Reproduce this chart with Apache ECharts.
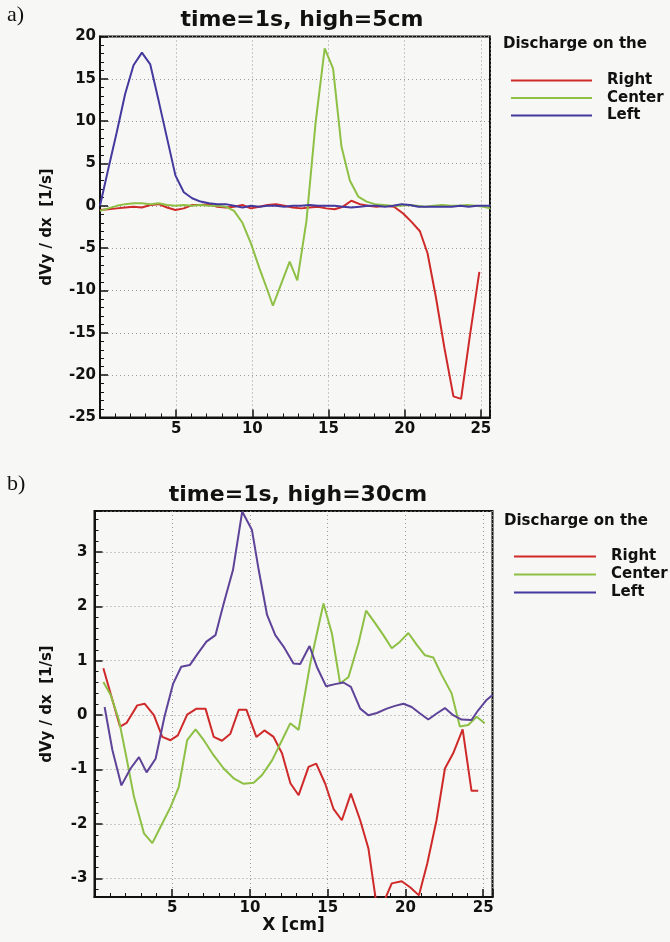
<!DOCTYPE html>
<html><head><meta charset="utf-8">
<script src="https://cdn.jsdelivr.net/npm/echarts@6/dist/echarts.min.js"></script>
<style>html,body{margin:0;padding:0;background:#f7f7f5;}#c{width:670px;height:942px;}</style>
</head><body><div id="c"></div>
<script>
// ---- chart a) time=1s, high=5cm ----
const aXTicks = [5, 10, 15, 20, 25];
const aYTicks = [-25, -20, -15, -10, -5, 0, 5, 10, 15, 20];
const aRight = [[0,-0.5],[0.55,-0.4],[1.1,-0.3],[1.65,-0.2],[2.2,-0.1],[2.75,-0.2],[3.3,0.1],[3.85,0.2],[4.4,-0.2],[4.95,-0.5],[5.5,-0.3],[6.05,0.1],[6.6,0.1],[7.15,0.2],[7.7,-0.1],[8.25,-0.2],[8.8,-0.1],[9.35,0.1],[9.9,-0.3],[10.45,-0.1],[11.0,0.1],[11.55,0.2],[12.1,0.0],[12.65,-0.2],[13.2,-0.3],[13.75,-0.2],[14.3,-0.1],[14.85,-0.3],[15.4,-0.4],[15.95,-0.1],[16.5,0.6],[17.05,0.2],[17.6,0.0],[18.15,-0.1],[18.7,0.0],[19.3,-0.1],[19.9,-0.9],[20.45,-1.9],[21.0,-3.0],[21.5,-5.6],[22.05,-10.8],[22.6,-16.7],[23.2,-22.5],[23.7,-22.8],[24.3,-15.1],[24.9,-7.8]];
const aCenter = [[0,-0.6],[0.55,-0.3],[1.1,0.0],[1.65,0.2],[2.2,0.3],[2.75,0.3],[3.3,0.2],[3.85,0.3],[4.4,0.1],[4.95,0.0],[5.5,0.1],[6.05,0.0],[6.6,0.1],[7.15,0.0],[7.7,0.0],[8.25,-0.1],[8.8,-0.6],[9.35,-2.0],[9.9,-4.4],[10.45,-7.3],[11.0,-10.0],[11.35,-11.8],[11.9,-9.2],[12.45,-6.6],[12.95,-8.8],[13.55,-1.8],[14.15,9.8],[14.75,18.6],[15.3,16.2],[15.85,7.0],[16.4,3.0],[16.95,1.1],[17.5,0.5],[18.05,0.2],[18.6,0.1],[19.15,0.0],[19.7,0.0],[20.25,0.1],[20.8,0.0],[21.35,-0.1],[21.9,0.0],[22.45,0.1],[23.0,0.0],[23.55,0.0],[24.1,0.1],[24.65,0.0],[25.2,-0.1],[25.6,-0.3]];
const aLeft = [[0,0],[0.55,4.4],[1.1,8.7],[1.65,13.2],[2.2,16.6],[2.75,18.1],[3.3,16.7],[3.85,12.4],[4.4,8.0],[4.95,3.6],[5.5,1.6],[6.05,0.9],[6.6,0.5],[7.15,0.3],[7.7,0.2],[8.25,0.2],[8.8,0.0],[9.35,-0.2],[9.9,0.0],[10.45,-0.1],[11.0,0.0],[11.55,0.0],[12.1,-0.1],[12.65,0.0],[13.2,0.0],[13.75,0.1],[14.3,0.0],[14.85,0.0],[15.4,0.0],[15.95,-0.1],[16.5,-0.2],[17.05,-0.1],[17.6,0.0],[18.15,0.0],[18.7,-0.1],[19.25,0.0],[19.8,0.2],[20.35,0.1],[20.9,-0.1],[21.45,-0.1],[22.0,-0.1],[22.55,-0.1],[23.1,-0.1],[23.65,0.0],[24.2,-0.1],[24.75,0.0],[25.3,0.0],[25.6,0.0]];

// ---- chart b) time=1s, high=30cm ----
const bXTicks = [5, 10, 15, 20, 25];
const bYTicks = [-3, -2, -1, 0, 1, 2, 3];
const bRight = [[0.57,0.86],[1.64,-0.21],[2.07,-0.14],[2.75,0.18],[3.22,0.21],[3.82,0.0],[4.36,-0.4],[4.89,-0.46],[5.36,-0.37],[5.96,0.01],[6.56,0.12],[7.14,0.12],[7.67,-0.4],[8.2,-0.47],[8.74,-0.34],[9.28,0.1],[9.77,0.1],[10.41,-0.4],[10.93,-0.28],[11.52,-0.4],[12.06,-0.7],[12.6,-1.25],[13.13,-1.47],[13.77,-0.95],[14.26,-0.89],[14.84,-1.26],[15.37,-1.72],[15.91,-1.93],[16.49,-1.44],[17.09,-1.93],[17.62,-2.45],[18.11,-3.42],[18.58,-3.45],[19.12,-3.09],[19.76,-3.05],[20.3,-3.16],[20.87,-3.31],[21.4,-2.73],[22.0,-1.93],[22.54,-0.98],[23.07,-0.7],[23.68,-0.26],[24.25,-1.39],[24.68,-1.39]];
const bCenter = [[0.57,0.61],[1.04,0.37],[1.57,-0.09],[2.0,-0.7],[2.54,-1.5],[3.18,-2.17],[3.72,-2.35],[4.25,-2.05],[4.89,-1.69],[5.42,-1.32],[5.96,-0.46],[6.5,-0.26],[7.03,-0.46],[7.67,-0.74],[8.31,-0.98],[8.95,-1.16],[9.6,-1.26],[10.24,-1.24],[10.78,-1.1],[11.42,-0.83],[12.06,-0.46],[12.59,-0.15],[13.13,-0.27],[13.88,0.95],[14.73,2.05],[15.27,1.5],[15.8,0.58],[16.34,0.7],[16.98,1.32],[17.47,1.92],[18.05,1.69],[18.58,1.47],[19.12,1.23],[19.65,1.35],[20.19,1.51],[20.73,1.29],[21.26,1.1],[21.79,1.06],[22.33,0.74],[22.97,0.4],[23.5,-0.21],[24.04,-0.18],[24.58,-0.03],[25.1,-0.15]];
const bLeft = [[0.65,0.15],[1.15,-0.64],[1.73,-1.29],[2.32,-0.98],[2.86,-0.77],[3.35,-1.05],[3.93,-0.8],[4.5,-0.03],[5.06,0.58],[5.58,0.89],[6.13,0.92],[6.64,1.13],[7.2,1.35],[7.78,1.47],[8.31,2.05],[8.91,2.67],[9.5,3.74],[10.13,3.4],[10.56,2.67],[11.1,1.84],[11.63,1.47],[12.16,1.26],[12.8,0.95],[13.23,0.94],[13.83,1.27],[14.3,0.89],[14.9,0.53],[15.48,0.57],[16.01,0.6],[16.49,0.52],[17.09,0.12],[17.62,0.0],[18.16,0.04],[18.8,0.12],[19.33,0.17],[19.87,0.21],[20.4,0.15],[20.94,0.03],[21.47,-0.08],[22.01,0.03],[22.54,0.13],[23.07,0.0],[23.61,-0.08],[24.25,-0.09],[24.68,0.09],[25.22,0.28],[25.6,0.37]];

const seriesNames = ['Right', 'Center', 'Left'];
const colorsA = ['#cf2a2a', '#8dc044', '#44399e'];
const colorsB = ['#cf2a2a', '#8dc044', '#5e4399'];

const INK = '#111';
const FONT = 'DejaVu Sans';
const lbl = (ticks) => (v) => ticks.some(t => Math.abs(t - v) < 1e-6) ? String(Math.round(v)) : '';

function xAxisCfg(grid, ticks, name) {
  return {
    gridIndex: grid, type: 'value', min: 0, max: 25.6, interval: 5,
    name: name || '', nameLocation: 'middle', nameGap: 19,
    nameTextStyle: {color: INK, fontFamily: FONT, fontWeight: 'bold', fontSize: 17},
    axisLine: {show: true, onZero: false, lineStyle: {color: INK, width: 2}},
    axisTick: {show: true, inside: true, length: 8, lineStyle: {color: INK, width: 1.5}},
    minorTick: {show: true, splitNumber: 5, length: 4, lineStyle: {color: INK, width: 1}},
    splitLine: {show: true, lineStyle: {color: '#9a9a9a', width: 1, type: [1, 3]}},
    axisLabel: {formatter: lbl(ticks), margin: 4, color: INK, fontFamily: FONT, fontWeight: 'bold', fontSize: 15}
  };
}
function yAxisCfg(grid, ticks, min, max, interval, gap, margin) {
  const c = {
    gridIndex: grid, type: 'value', min: min, max: max,
    name: 'dVy / dx  [1/s]', nameLocation: 'middle', nameGap: gap, nameRotate: 90,
    nameTextStyle: {color: INK, fontFamily: FONT, fontWeight: 'bold', fontSize: 15},
    axisLine: {show: true, onZero: false, lineStyle: {color: INK, width: 2}},
    axisTick: {show: true, inside: true, length: 8, lineStyle: {color: INK, width: 1.5}},
    minorTick: {show: true, splitNumber: 5, length: 4, lineStyle: {color: INK, width: 1}},
    splitLine: {show: true, lineStyle: {color: '#9a9a9a', width: 1, type: [1, 3]}},
    axisLabel: {formatter: lbl(ticks), margin: margin, color: INK, fontFamily: FONT, fontWeight: 'bold', fontSize: 15}
  };
  if (interval) c.interval = interval; else c.splitNumber = 7;
  return c;
}
function line(name, data, gi, color) {
  return {name: name, type: 'line', xAxisIndex: gi, yAxisIndex: gi, data: data,
    showSymbol: false, symbol: 'none', clip: true, animation: false,
    lineStyle: {color: color, width: 2}, itemStyle: {color: color}};
}
const txt = (text, left, top, size, family, weight, align) => ({
  text: text, left: left, top: top, padding: 0, textAlign: align || 'left',
  textStyle: {color: INK, fontFamily: family || FONT, fontWeight: weight || 'bold', fontSize: size}
});
const legendCfg = (left, top, width, gap) => ({
  data: seriesNames, orient: 'vertical', left: left, top: top, padding: 0,
  itemWidth: width, itemHeight: 14, itemGap: gap, selectedMode: false,
  itemStyle: {opacity: 0},
  textStyle: {color: INK, fontFamily: FONT, fontWeight: 'bold', fontSize: 15, padding: [0, 0, 0, 10]}
});

const chart = echarts.init(document.getElementById('c'), null, {renderer: 'canvas'});
chart.setOption({
  backgroundColor: '#f7f7f5',
  animation: false,
  title: [
    txt('a)', 7, 4, 22, 'Liberation Serif', 'normal'),
    txt('time=1s, high=5cm', 302, 9, 22, FONT, 'bold', 'center'),
    txt('Discharge on the', 503, 37, 15),
    txt('b)', 7, 473, 22, 'Liberation Serif', 'normal'),
    txt('time=1s, high=30cm', 298, 484, 22, FONT, 'bold', 'center'),
    txt('Discharge on the', 504, 514, 15)
  ],
  grid: [
    {left: 100, top: 36.5, width: 390, height: 381, show: true, borderColor: INK, borderWidth: 2, backgroundColor: 'transparent'},
    {left: 94.5, top: 511, width: 398, height: 386, show: true, borderColor: INK, borderWidth: 2, backgroundColor: 'transparent'}
  ],
  xAxis: [xAxisCfg(0, aXTicks), xAxisCfg(1, bXTicks, 'X [cm]')],
  yAxis: [yAxisCfg(0, aYTicks, -25, 20, 5, 45, 4), yAxisCfg(1, bYTicks, -3.34, 3.75, null, 40, 7)],
  legend: [legendCfg(510, 73, 81, 2.5), legendCfg(513, 549, 82, 3)],
  series: [
    line('Right', aRight, 0, colorsA[0]),
    line('Center', aCenter, 0, colorsA[1]),
    line('Left', aLeft, 0, colorsA[2]),
    line('Right', bRight, 1, colorsB[0]),
    line('Center', bCenter, 1, colorsB[1]),
    line('Left', bLeft, 1, colorsB[2])
  ]
});
</script></body></html>
